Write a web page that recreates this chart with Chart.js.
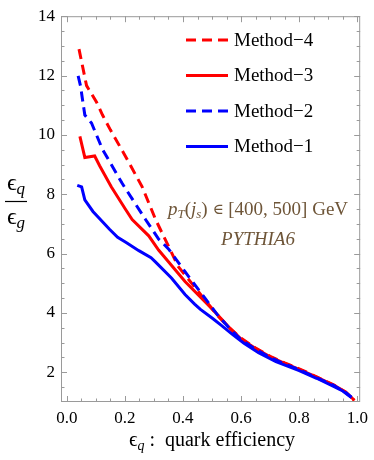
<!DOCTYPE html>
<html>
<head>
<meta charset="utf-8">
<script src="https://cdn.jsdelivr.net/npm/chart.js@4.4.1/dist/chart.umd.min.js"></script>
<style>
  body { margin: 0; background: #fff; }
  #wrap { width: 374px; height: 460px; }
</style>
</head>
<body>
<div id="wrap"><canvas id="chart"></canvas></div>
<script>
// quark efficiency (x) and eps_q/eps_g (y)
const effM1 = [0.036, 0.051, 0.062, 0.09, 0.147, 0.175, 0.203, 0.248, 0.29, 0.305, 0.361, 0.407, 0.44, 0.46, 0.5, 0.53, 0.57, 0.61, 0.66, 0.72, 0.8, 0.86, 0.915, 0.95, 0.98]
const ratioM1 = [8.30, 8.25, 7.81, 7.42, 6.82, 6.55, 6.38, 6.10, 5.86, 5.72, 5.17, 4.62, 4.30, 4.12, 3.83, 3.60, 3.28, 2.98, 2.66, 2.36, 2.06, 1.80, 1.54, 1.37, 1.15]

const effM2 = [0.039, 0.047, 0.062, 0.085, 0.123, 0.191, 0.271, 0.316, 0.35, 0.407, 0.475, 0.52, 0.56, 0.6, 0.65, 0.7, 0.75, 0.8, 0.86, 0.92, 0.96, 0.98]
const ratioM2 = [11.99, 11.66, 10.67, 10.40, 9.51, 8.36, 7.15, 6.49, 6.16, 5.39, 4.51, 3.92, 3.48, 3.10, 2.78, 2.50, 2.28, 2.09, 1.82, 1.55, 1.32, 1.16]

const effM3 = [0.045, 0.062, 0.096, 0.113, 0.153, 0.203, 0.225, 0.282, 0.316, 0.407, 0.496, 0.53, 0.56, 0.6, 0.65, 0.7, 0.75, 0.8, 0.86, 0.92, 0.96, 0.99]
const ratioM3 = [9.95, 9.24, 9.29, 8.96, 8.25, 7.48, 7.15, 6.60, 6.12, 5.06, 4.18, 3.82, 3.50, 3.12, 2.80, 2.52, 2.30, 2.10, 1.84, 1.56, 1.34, 1.06]

const effM4 = [0.042, 0.068, 0.102, 0.123, 0.15, 0.195, 0.259, 0.306, 0.384, 0.479, 0.52, 0.56, 0.6, 0.65, 0.7, 0.75, 0.8, 0.86, 0.92, 0.96, 0.99]
const ratioM4 = [12.89, 11.66, 11.11, 10.67, 10.17, 9.40, 8.26, 7.14, 5.56, 4.40, 3.90, 3.50, 3.15, 2.82, 2.54, 2.32, 2.12, 1.85, 1.57, 1.33, 1.05]

const xTicks = [0, 0.2, 0.4, 0.6, 0.8, 1.0]
const yTicks = [2, 4, 6, 8, 10, 12, 14]

const RED = 'rgb(255,0,0)'
const BLUE = 'rgb(0,0,255)'
const BROWN = '#6e5538'
const FRAME = '#9a9a9a'
const SERIF = '"Liberation Serif", "Times New Roman", serif'

const pts = (xs, ys) => xs.map((x, i) => ({x: x, y: ys[i]}))

// legend entries, top to bottom
const legendItems = [
  {label: 'Method\u22124', color: RED, dash: [10, 6]},
  {label: 'Method\u22123', color: RED, dash: []},
  {label: 'Method\u22122', color: BLUE, dash: [10, 6]},
  {label: 'Method\u22121', color: BLUE, dash: []}
]

function richText(ctx, parts, cx, y) {
  let w = 0
  parts.forEach(p => { ctx.font = p.f; w += ctx.measureText(p.t).width })
  let x = cx - w / 2
  ctx.textAlign = 'left'
  ctx.textBaseline = 'alphabetic'
  parts.forEach(p => {
    ctx.font = p.f
    ctx.fillText(p.t, x, y + (p.dy || 0))
    x += ctx.measureText(p.t).width
  })
}

const decorations = {
  id: 'decorations',
  afterDraw(chart) {
    const ctx = chart.ctx
    const a = chart.chartArea
    const sx = chart.scales.x, sy = chart.scales.y
    ctx.save()
    // frame
    ctx.strokeStyle = FRAME
    ctx.lineWidth = 1
    ctx.strokeRect(a.left + 0.5, a.top + 0.5, a.right - a.left - 1, a.bottom - a.top - 1)
    // inward ticks on all sides
    ctx.beginPath()
    for (let v = 0; v <= 1.0001; v += 0.05) {
      const major = Math.abs(v * 5 - Math.round(v * 5)) < 1e-6
      const len = major ? 6 : 3.5
      const px = Math.round(sx.getPixelForValue(v)) + 0.5
      ctx.moveTo(px, a.bottom); ctx.lineTo(px, a.bottom - len)
      ctx.moveTo(px, a.top); ctx.lineTo(px, a.top + len)
    }
    for (let v = 1.5; v <= 14.0001; v += 0.5) {
      const major = Math.abs(v / 2 - Math.round(v / 2)) < 1e-6
      const len = major ? 6 : 3.5
      const py = Math.round(sy.getPixelForValue(v)) + 0.5
      ctx.moveTo(a.left, py); ctx.lineTo(a.left + len, py)
      ctx.moveTo(a.right, py); ctx.lineTo(a.right - len, py)
    }
    ctx.stroke()

    // legend
    legendItems.forEach((it, i) => {
      const y = 40 + i * 35.5
      ctx.strokeStyle = it.color
      ctx.lineWidth = 3
      ctx.setLineDash(it.dash)
      ctx.beginPath()
      ctx.moveTo(186, y); ctx.lineTo(228, y)
      ctx.stroke()
      ctx.setLineDash([])
      ctx.fillStyle = '#000'
      ctx.font = '19px ' + SERIF
      ctx.textAlign = 'left'
      ctx.textBaseline = 'middle'
      ctx.fillText(it.label, 234, y + 1)
    })

    // annotation
    ctx.fillStyle = BROWN
    richText(ctx, [
      {t: 'p', f: 'italic 19px ' + SERIF},
      {t: 'T', f: 'italic 13px ' + SERIF, dy: 3},
      {t: '(', f: '19px ' + SERIF},
      {t: 'j', f: 'italic 19px ' + SERIF},
      {t: 's', f: 'italic 13px ' + SERIF, dy: 3},
      {t: ') ', f: '19px ' + SERIF},
      {t: '\u2208', f: '15px "DejaVu Serif", serif', dy: -1},
      {t: ' [400, 500] GeV', f: '19px ' + SERIF}
    ], 258, 215)
    richText(ctx, [{t: 'PYTHIA6', f: 'italic 19px ' + SERIF}], 258, 245)

    // x axis title
    ctx.fillStyle = '#000'
    richText(ctx, [
      {t: '\u03f5', f: '21px ' + SERIF},
      {t: 'q', f: 'italic 14px ' + SERIF, dy: 4},
      {t: ' :  quark efficiency', f: '20px ' + SERIF}
    ], 212, 446)

    // y axis title as a fraction
    richText(ctx, [
      {t: '\u03f5', f: '24px ' + SERIF},
      {t: 'q', f: 'italic 17px ' + SERIF, dy: 4}
    ], 16, 190)
    ctx.strokeStyle = '#000'
    ctx.lineWidth = 1.2
    ctx.beginPath()
    ctx.moveTo(5, 201.5); ctx.lineTo(27, 201.5)
    ctx.stroke()
    richText(ctx, [
      {t: '\u03f5', f: '24px ' + SERIF},
      {t: 'g', f: 'italic 17px ' + SERIF, dy: 4}
    ], 16, 224)
    ctx.restore()
  }
}

const lineSet = (label, xs, ys, color, dash) => ({
  label: label,
  data: pts(xs, ys),
  borderColor: color,
  borderWidth: 3,
  borderDash: dash,
  pointRadius: 0,
  fill: false,
  tension: 0
})

new Chart(document.getElementById('chart'), {
  type: 'line',
  data: {
    datasets: [
      lineSet('Method-1', effM1, ratioM1, BLUE, []),
      lineSet('Method-2', effM2, ratioM2, BLUE, [10, 6]),
      lineSet('Method-3', effM3, ratioM3, RED, []),
      lineSet('Method-4', effM4, ratioM4, RED, [10, 6])
    ]
  },
  options: {
    responsive: true,
    maintainAspectRatio: false,
    animation: false,
    layout: {padding: {top: 9, right: 10, left: 0, bottom: 0}},
    plugins: {legend: {display: false}, tooltip: {enabled: false}},
    scales: {
      x: {
        type: 'linear',
        min: -0.02,
        max: 1.01,
        grid: {display: false, drawTicks: false},
        border: {display: false},
        afterBuildTicks: s => { s.ticks = xTicks.map(v => ({value: v})) },
        afterFit: s => { s.height = 58 },
        ticks: {
          color: '#000',
          padding: 6,
          maxRotation: 0,
          font: {family: SERIF, size: 17},
          callback: v => Number(v).toFixed(1)
        }
      },
      y: {
        type: 'linear',
        min: 1.0,
        max: 14,
        grid: {display: false, drawTicks: false},
        border: {display: false},
        afterBuildTicks: s => { s.ticks = yTicks.map(v => ({value: v})) },
        afterFit: s => { s.width = 61 },
        ticks: {
          color: '#000',
          padding: 6,
          font: {family: SERIF, size: 17},
          callback: v => String(v)
        }
      }
    }
  },
  plugins: [decorations]
})
</script>
</body>
</html>
